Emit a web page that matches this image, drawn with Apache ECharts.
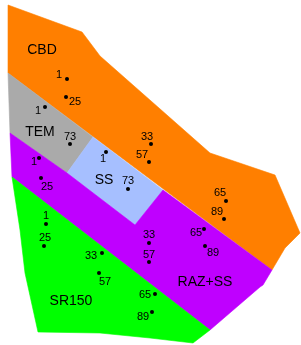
<!DOCTYPE html>
<html>
<head>
<meta charset="utf-8">
<script src="https://cdn.jsdelivr.net/npm/echarts@6/dist/echarts.min.js"></script>
<style>
    html, body { margin: 0; padding: 0; background: #fff; }
    #main { width: 301px; height: 345px; }
</style>
</head>
<body>
<div id="main"></div>
<script>
// zones, drawn in this order
let zoneNames = ['CBD', 'TEM', 'SS', 'RAZ+SS', 'SR150'];
let zoneColors = ['#ff7f00', '#aaaaaa', '#a6bfff', '#bf00ff', '#00ff00'];
let zonePolygons = [
    [[8, 5], [82, 32], [100, 56], [210, 153], [275, 175], [300, 233], [285, 248], [272, 270], [8, 73]],
    [[8, 73], [93, 137], [67, 173], [10, 133]],
    [[93, 137], [163, 190], [135, 225], [67, 173]],
    [[10, 133], [67, 173], [135, 225], [163, 190], [272, 270], [263, 285], [260, 287], [210, 330], [12, 177]],
    [[12, 177], [210, 330], [193, 343], [150, 338], [100, 333], [38, 332], [25, 273], [20, 230]]
];
let zoneLabelPos = [[42, 50], [40, 132], [104, 180], [205, 282], [71, 301]];

// sampling points and their numbers
let pointXY = [
    [67, 79], [66, 97], [45, 107], [70, 144], [39, 158], [41, 178], [106, 152], [128, 189],
    [151, 144], [149, 162], [46, 224], [44, 246], [102, 253], [99, 273], [149, 243], [149, 262],
    [155, 294], [152, 312], [226, 201], [224, 219], [204, 229], [205, 246]
];
let pointNums = ['1', '25', '1', '73', '1', '25', '1', '73', '33', '57', '1', '25', '33', '57', '33', '57',
    '65', '89', '65', '89', '65', '89'];
let pointLabelXY = [
    [59, 75], [75, 102], [38, 111], [70, 137], [34, 162], [47, 187], [103, 159], [128, 181],
    [147, 137], [142, 155], [46, 216], [45, 238], [91, 256], [105, 282], [149, 235], [149, 255],
    [145, 295], [143, 317], [220, 193], [217, 212], [196, 233], [213, 253]
];

let myChart = echarts.init(document.getElementById('main'));

let font = '"Liberation Sans", Arial, sans-serif';

let option = {
    animation: false,
    backgroundColor: '#fff',
    grid: { left: 0, right: 0, top: 0, bottom: 0 },
    xAxis: { type: 'value', min: 0, max: 301, show: false },
    yAxis: { type: 'value', min: 0, max: 345, inverse: true, show: false },
    series: [
        {
            type: 'custom',
            clip: false,
            silent: true,
            data: zoneNames.map(function (n, i) { return [i]; }),
            renderItem: function (params, api) {
                let pts = zonePolygons[params.dataIndex].map(function (p) {
                    return api.coord(p);
                });
                let c = zoneColors[params.dataIndex];
                return {
                    type: 'polygon',
                    shape: { points: pts },
                    style: { fill: c, stroke: c, lineWidth: 0.6 }
                };
            }
        },
        {
            type: 'scatter',
            silent: true,
            data: zoneLabelPos.map(function (p, i) { return { value: p, name: zoneNames[i] }; }),
            symbolSize: 0,
            itemStyle: { opacity: 1 },
            label: {
                show: true,
                position: 'inside',
                formatter: '{b}',
                color: '#000',
                fontSize: 14,
                fontFamily: font
            }
        },
        {
            type: 'scatter',
            silent: true,
            data: pointXY,
            symbol: 'circle',
            symbolSize: 4,
            itemStyle: { color: '#000', opacity: 1 }
        },
        {
            type: 'scatter',
            silent: true,
            data: pointLabelXY.map(function (p, i) { return { value: p, name: pointNums[i] }; }),
            symbolSize: 0,
            itemStyle: { opacity: 1 },
            label: {
                show: true,
                position: 'inside',
                formatter: '{b}',
                color: '#000',
                fontSize: 11,
                fontFamily: font
            }
        }
    ]
};
myChart.setOption(option);
</script>
</body>
</html>
